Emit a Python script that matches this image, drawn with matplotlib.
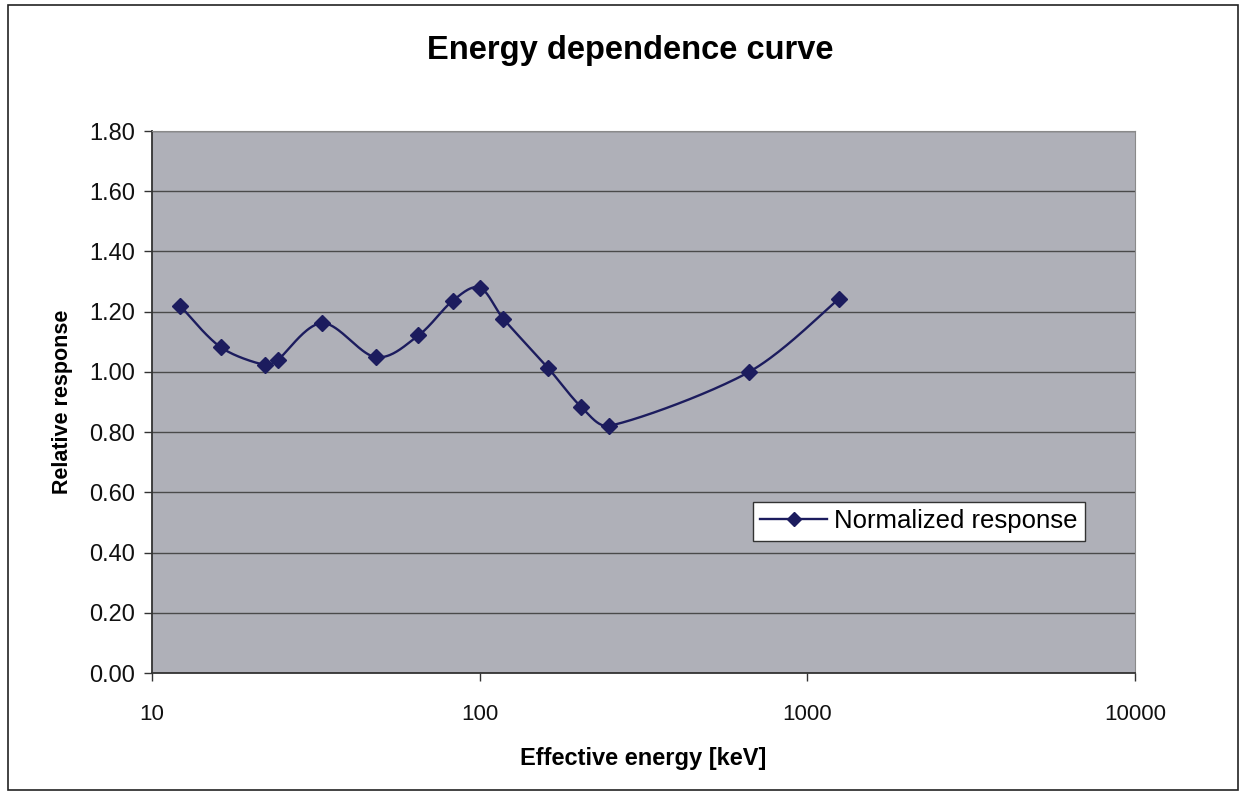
import numpy as np
import matplotlib.pyplot as plt
from matplotlib.patches import Rectangle
from matplotlib.ticker import FixedLocator, NullLocator

plt.rcParams['font.family'] = ['Liberation Sans', 'DejaVu Sans']

# data
energy_kev = [12.2, 16.2, 22.1, 24.2, 33.1, 48.2, 65.0, 82.7, 100, 118, 162, 204, 249, 662, 1250]
response = [1.219, 1.082, 1.023, 1.040, 1.162, 1.049, 1.121, 1.236, 1.280, 1.177,
            1.012, 0.884, 0.821, 0.999, 1.243]
y_ticks = [0.0, 0.2, 0.4, 0.6, 0.8, 1.0, 1.2, 1.4, 1.6, 1.8]
x_ticks = [10, 100, 1000, 10000]


def smooth_curve(xs, ys, n=40):
    """Excel-style smoothed line: Bezier segments through the points, in log-x space."""
    u = np.log10(xs) * 327.7
    v = np.asarray(ys) * 300.0
    pts = np.column_stack([u, v])
    out = []
    for i in range(len(pts) - 1):
        p0 = pts[i - 1] if i > 0 else pts[i]
        p1, p2 = pts[i], pts[i + 1]
        p3 = pts[i + 2] if i + 2 < len(pts) else pts[i + 1]
        d = np.linalg.norm(p2 - p1)
        t1 = (p2 - p0) / 6.0
        t2 = (p3 - p1) / 6.0
        # keep handles short so long neighbours don't make loops
        if np.linalg.norm(t1) > d / 3:
            t1 = t1 / np.linalg.norm(t1) * d / 3
        if np.linalg.norm(t2) > d / 3:
            t2 = t2 / np.linalg.norm(t2) * d / 3
        c1 = p1 + t1
        c2 = p2 - t2
        t = np.linspace(0, 1, n)[:, None]
        seg = ((1 - t) ** 3) * p1 + 3 * ((1 - t) ** 2) * t * c1 + 3 * (1 - t) * t ** 2 * c2 + t ** 3 * p2
        out.append(seg if i == 0 else seg[1:])
    out = np.vstack(out)
    return 10 ** (out[:, 0] / 327.7), out[:, 1] / 300.0


fig = plt.figure(figsize=(12.45, 7.95), dpi=100)
fig.patches.append(Rectangle((8 / 1245, 5 / 795), 1230 / 1245, 785 / 795, transform=fig.transFigure,
                             fill=False, edgecolor='#222222', linewidth=1.2))

ax = fig.add_axes([152 / 1245, 122 / 795, 983 / 1245, 542 / 795])
ax.set_facecolor('#afb0b8')

sx, sy = smooth_curve(energy_kev, response)
ax.plot(sx, sy, color='#1c1c5e', linewidth=1.7, zorder=3)
ax.plot(energy_kev, response, linestyle='none', marker='D', markersize=8,
        color='#1c1c5e', zorder=4)
# legend proxy
ax.plot([], [], color='#1c1c5e', linewidth=1.7, marker='D', markersize=7,
        label='Normalized response')

ax.set_xscale('log')
ax.set_xlim(10, 10000)
ax.set_ylim(0, 1.8)
ax.xaxis.set_major_locator(FixedLocator(x_ticks))
ax.xaxis.set_minor_locator(NullLocator())
ax.set_xticks(x_ticks)
ax.set_xticklabels([str(v) for v in x_ticks])
ax.set_yticks(y_ticks)
ax.set_yticklabels([f'{v:.2f}' for v in y_ticks])
ax.tick_params(axis='both', direction='out', length=6, width=1, color='#333333',
               labelcolor='#111111')
ax.tick_params(axis='y', labelsize=17, pad=6)
ax.tick_params(axis='x', labelsize=16, pad=16)

ax.yaxis.grid(True, color='#4a4a4a', linewidth=1.0)
ax.set_axisbelow(True)

for side in ['top', 'right']:
    ax.spines[side].set_color('#8a8a8a')
for side in ['left', 'bottom']:
    ax.spines[side].set_color('#333333')
    ax.spines[side].set_linewidth(1.3)

ax.set_xlabel('Effective energy [keV]', fontsize=17, fontweight='bold', labelpad=16)
ax.set_ylabel('Relative response', fontsize=15.5, fontweight='bold', labelpad=12)
fig.text(0.506, 0.937, 'Energy dependence curve', ha='center', va='center',
         fontsize=23.5, fontweight='bold')

leg = ax.legend(loc='upper left', bbox_to_anchor=(0.611, 0.316), fontsize=18.5,
                frameon=True, fancybox=False, borderpad=0.3, borderaxespad=0,
                handlelength=2.6, handletextpad=0.25)
leg.get_frame().set_edgecolor('#333333')
leg.get_frame().set_facecolor('white')
leg.get_frame().set_alpha(1)

fig.savefig('out.png', dpi=100)
